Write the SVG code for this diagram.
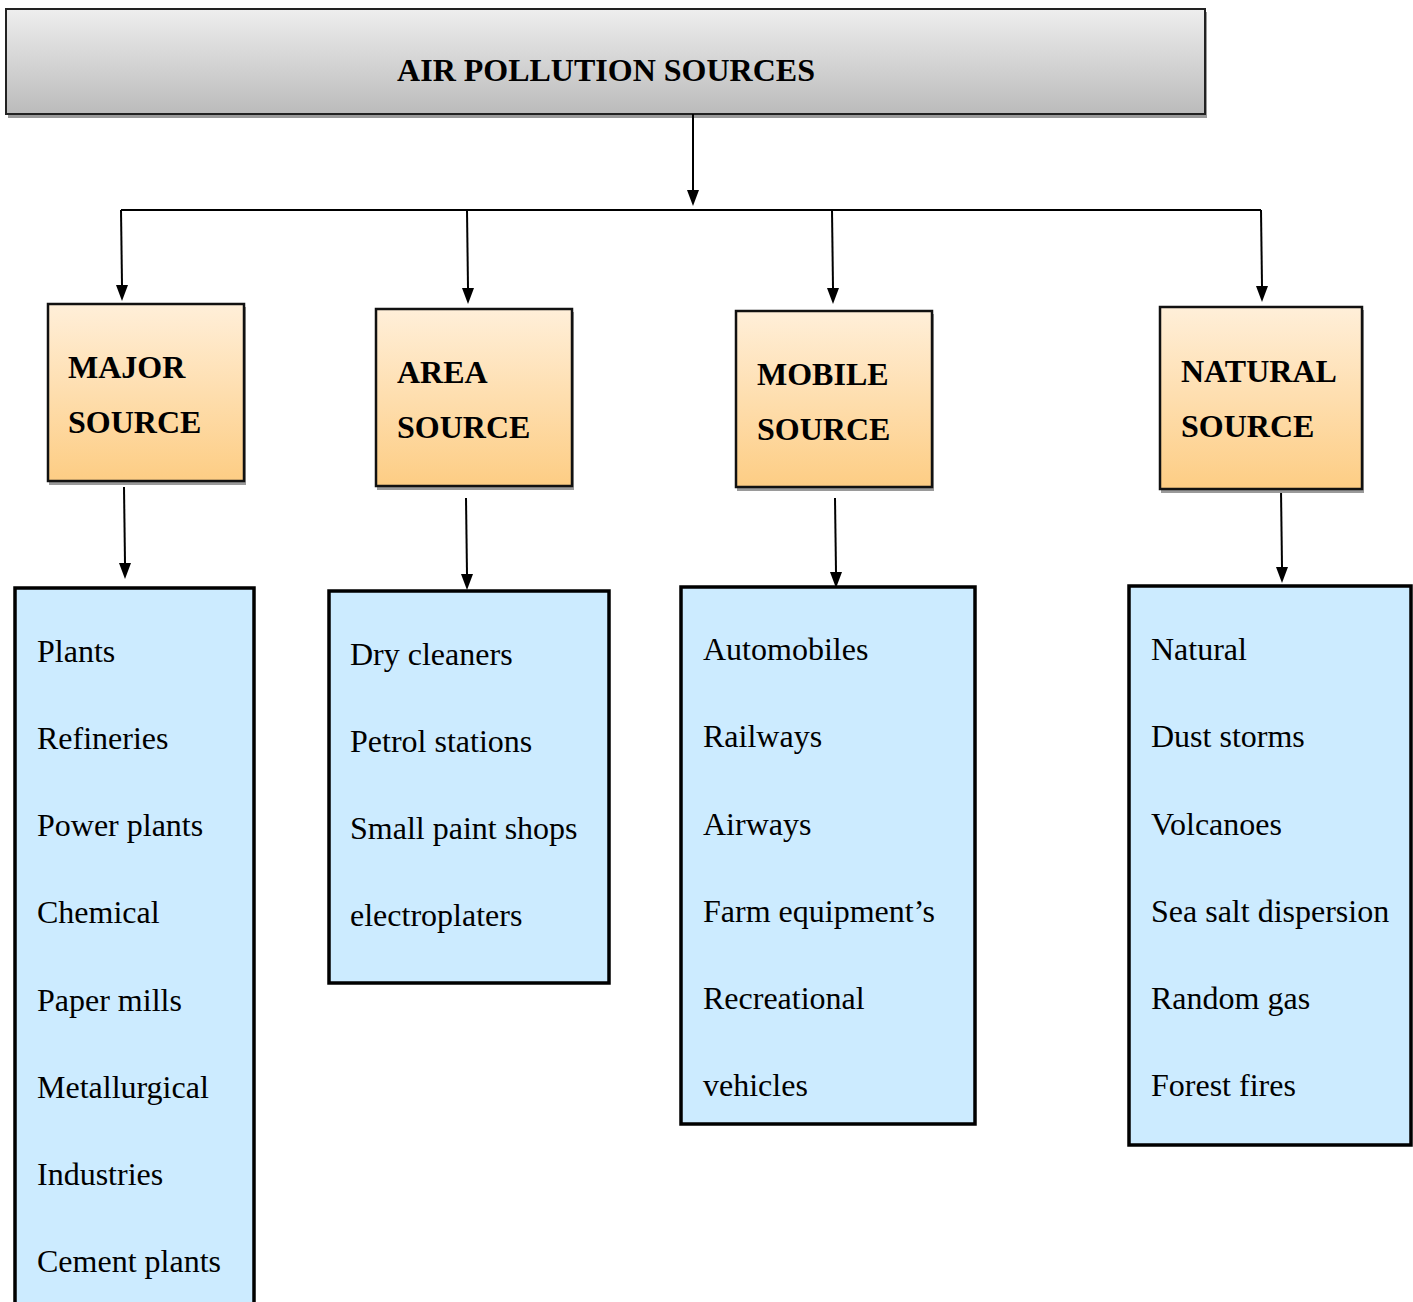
<svg xmlns="http://www.w3.org/2000/svg" width="1413" height="1302" viewBox="0 0 1413 1302">
<style>
.hdr{font-family:"Liberation Serif","Times New Roman",serif;font-weight:bold;font-size:32px;fill:#000}
.item{font-family:"Liberation Serif","Times New Roman",serif;font-size:32px;fill:#000}
.src{stroke:#111;stroke-width:2.5;fill:url(#gOrange)}
.list{stroke:#000;stroke-width:3.5;fill:#CCEBFF}
.shadow{fill:#9a9a9a}
.conn{stroke:#000;stroke-width:2;fill:none}
.head{fill:#000}
</style>
<defs>
<linearGradient id="gGray" x1="0" y1="0" x2="0" y2="1">
<stop offset="0" stop-color="#EEEEEE"/>
<stop offset="1" stop-color="#BBBBBB"/>
</linearGradient>
<linearGradient id="gOrange" x1="0" y1="0" x2="0" y2="1">
<stop offset="0" stop-color="#FFEFD9"/>
<stop offset="1" stop-color="#FDCD84"/>
</linearGradient>
</defs>
<rect width="1413" height="1302" fill="#fff"/>

<g id="root">
<rect class="shadow" x="8" y="12" width="1199" height="106"/>
<rect x="6" y="9" width="1199" height="105" fill="url(#gGray)" stroke="#222" stroke-width="2"/>
<text class="hdr" x="606" y="81" text-anchor="middle">AIR POLLUTION SOURCES</text>
</g>

<g id="connectors">
<path class="conn" d="M693,114 V190"/>
<path class="head" d="M687,190 L699,190 L693,206 Z"/>
<path class="conn" d="M121,210 H1261"/>
<path class="conn" d="M121,210 L122,285"/>
<path class="head" d="M116,285 L128,285 L122,301 Z"/>
<path class="conn" d="M467,210 L468,288"/>
<path class="head" d="M462,288 L474,288 L468,304 Z"/>
<path class="conn" d="M832,210 L833,288"/>
<path class="head" d="M827,288 L839,288 L833,304 Z"/>
<path class="conn" d="M1261,210 L1262,286"/>
<path class="head" d="M1256,286 L1268,286 L1262,302 Z"/>
<path class="conn" d="M124,487 L125,563"/>
<path class="head" d="M119,563 L131,563 L125,579 Z"/>
<path class="conn" d="M466,498 L467,574"/>
<path class="head" d="M461,574 L473,574 L467,590 Z"/>
<path class="conn" d="M835,498 L836,572"/>
<path class="head" d="M830,572 L842,572 L836,588 Z"/>
<path class="conn" d="M1281,490 L1282,567"/>
<path class="head" d="M1276,567 L1288,567 L1282,583 Z"/>
</g>

<g id="major">
<rect class="shadow" x="49" y="307" width="197" height="178"/>
<rect class="src" x="48" y="304" width="196" height="177"/>
<text class="hdr" x="68" y="378">MAJOR</text>
<text class="hdr" x="68" y="433">SOURCE</text>
</g>
<g id="area">
<rect class="shadow" x="377" y="312" width="197" height="178"/>
<rect class="src" x="376" y="309" width="196" height="177"/>
<text class="hdr" x="397" y="383">AREA</text>
<text class="hdr" x="397" y="438">SOURCE</text>
</g>
<g id="mobile">
<rect class="shadow" x="737" y="314" width="197" height="177"/>
<rect class="src" x="736" y="311" width="196" height="176"/>
<text class="hdr" x="757" y="385">MOBILE</text>
<text class="hdr" x="757" y="440">SOURCE</text>
</g>
<g id="natural">
<rect class="shadow" x="1161" y="310" width="203" height="183"/>
<rect class="src" x="1160" y="307" width="202" height="182"/>
<text class="hdr" x="1181" y="382">NATURAL</text>
<text class="hdr" x="1181" y="437">SOURCE</text>
</g>

<g id="major-list">
<rect class="list" x="15" y="588" width="239" height="730"/>
<text class="item" x="37" y="662">Plants</text>
<text class="item" x="37" y="749">Refineries</text>
<text class="item" x="37" y="836">Power plants</text>
<text class="item" x="37" y="923">Chemical</text>
<text class="item" x="37" y="1011">Paper mills</text>
<text class="item" x="37" y="1098">Metallurgical</text>
<text class="item" x="37" y="1185">Industries</text>
<text class="item" x="37" y="1272">Cement plants</text>
</g>
<g id="area-list">
<rect class="list" x="329" y="591" width="280" height="392"/>
<text class="item" x="350" y="665">Dry cleaners</text>
<text class="item" x="350" y="752">Petrol stations</text>
<text class="item" x="350" y="839">Small paint shops</text>
<text class="item" x="350" y="926">electroplaters</text>
</g>
<g id="mobile-list">
<rect class="list" x="681" y="587" width="294" height="537"/>
<text class="item" x="703" y="660">Automobiles</text>
<text class="item" x="703" y="747">Railways</text>
<text class="item" x="703" y="835">Airways</text>
<text class="item" x="703" y="922">Farm equipment’s</text>
<text class="item" x="703" y="1009">Recreational</text>
<text class="item" x="703" y="1096">vehicles</text>
</g>
<g id="natural-list">
<rect class="list" x="1129" y="586" width="282" height="559"/>
<text class="item" x="1151" y="660">Natural</text>
<text class="item" x="1151" y="747">Dust storms</text>
<text class="item" x="1151" y="835">Volcanoes</text>
<text class="item" x="1151" y="922">Sea salt dispersion</text>
<text class="item" x="1151" y="1009">Random gas</text>
<text class="item" x="1151" y="1096">Forest fires</text>
</g>
</svg>
